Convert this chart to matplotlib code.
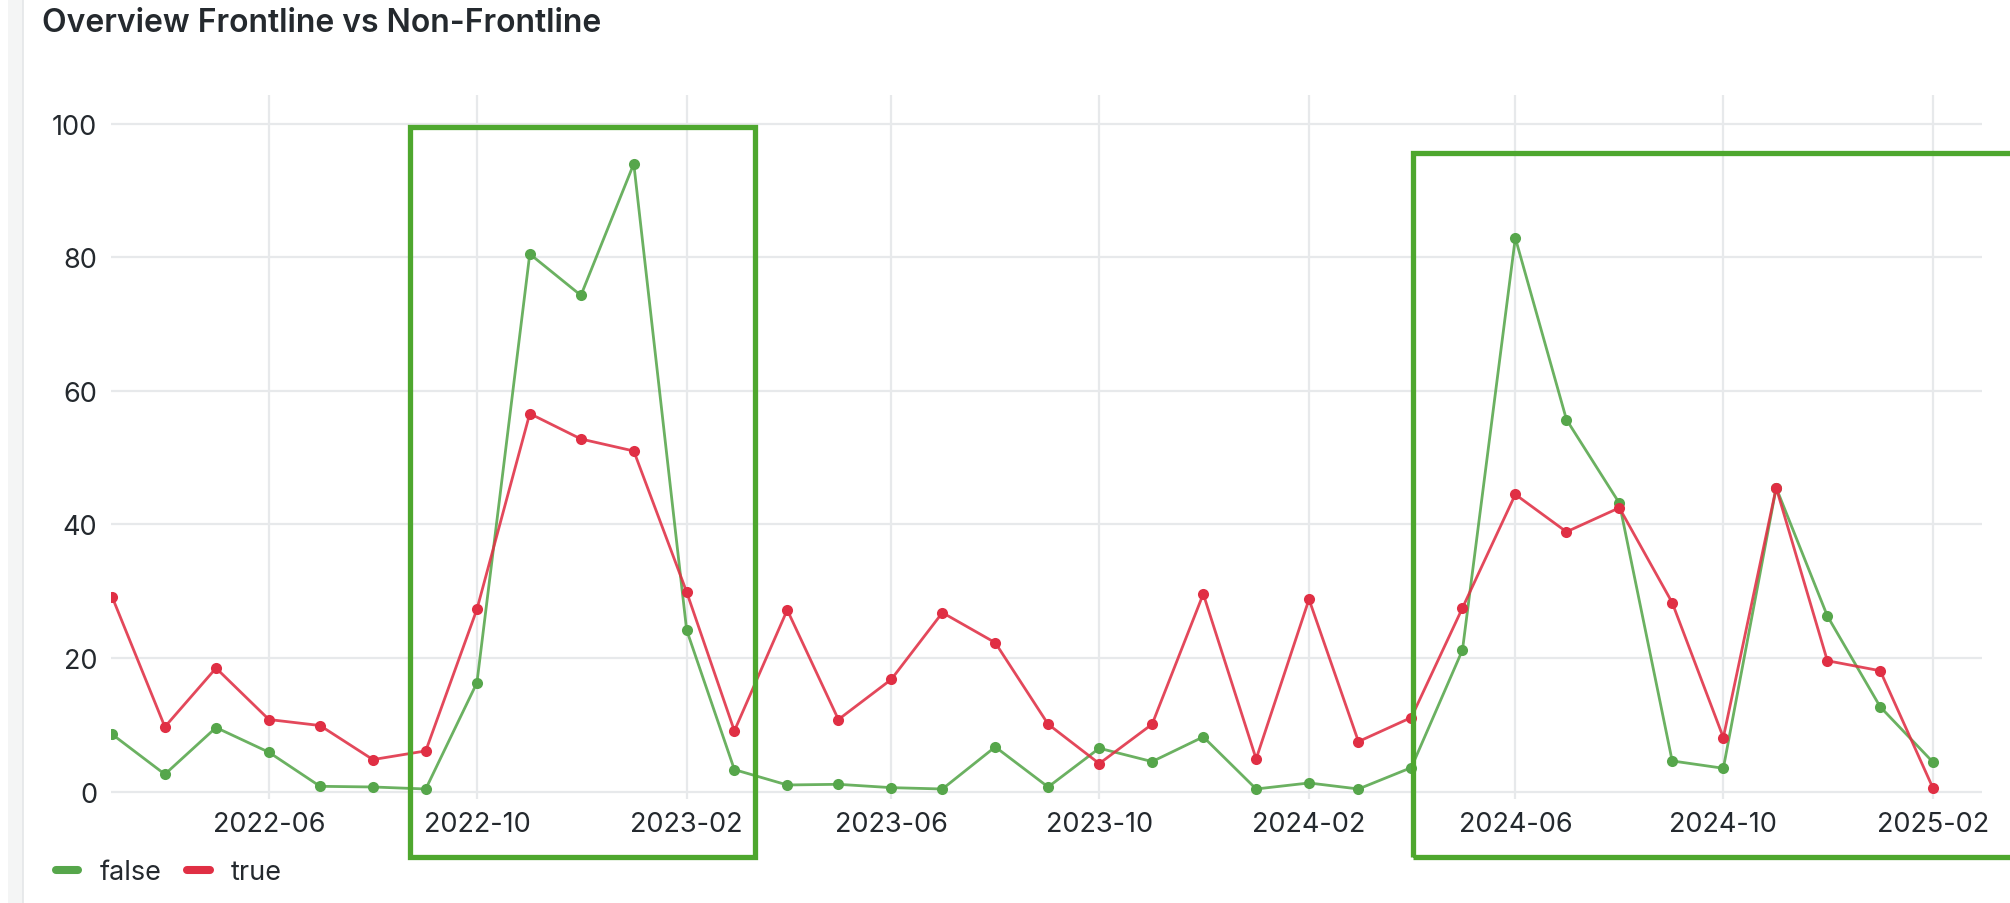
import matplotlib
matplotlib.use("Agg")
import matplotlib.pyplot as plt
import matplotlib.dates as mdates
from matplotlib.lines import Line2D
from matplotlib.patches import Rectangle
import pandas as pd

plt.rcParams['font.family'] = ['Inter', 'DejaVu Sans']

# Monthly series, 2022-03 .. 2025-02
months = pd.date_range("2022-03-01", "2025-02-01", freq="MS")

non_frontline = [8.6, 2.6, 9.6, 5.9, 0.8, 0.7, 0.4, 16.3, 80.5, 74.3, 94.0, 24.2,
                 3.3, 1.0, 1.1, 0.6, 0.4, 6.7, 0.7, 6.5, 4.5, 8.2, 0.4, 1.3,
                 0.4, 3.6, 21.2, 82.9, 55.7, 43.2, 4.6, 3.5, 45.5, 26.3, 12.7, 4.4]
frontline = [29.2, 9.7, 18.5, 10.8, 9.9, 4.8, 6.1, 27.3, 56.6, 52.8, 51.0, 29.9,
             9.1, 27.2, 10.8, 16.8, 26.8, 22.3, 10.1, 4.2, 10.1, 29.6, 4.9, 28.8,
             7.5, 11.1, 27.5, 44.5, 38.9, 42.5, 28.3, 8.1, 45.5, 19.6, 18.1, 0.5]

series_labels = ["false", "true"]
series_colors = ["#56a64b", "#e02f44"]
title = "Overview Frontline vs Non-Frontline"
y_ticks = [0, 20, 40, 60, 80, 100]

TEXT = "#24292e"
GRID = "#e7e9eb"
BOX = "#4ea72e"

W, H = 2010, 904
fig = plt.figure(figsize=(W / 100, H / 100), dpi=100)
fig.patch.set_facecolor("white")

# panel side strip
fig.add_artist(Rectangle((8 / W, 0), 15 / W, 1, transform=fig.transFigure,
                         facecolor="#f4f5f5", edgecolor="none", zorder=0))
fig.add_artist(Line2D([23 / W, 23 / W], [0, 1], transform=fig.transFigure,
                      color="#e4e6e8", lw=1.2, zorder=0))

ax = fig.add_axes([111 / W, 1 - 800 / H, (1982 - 111) / W, (800 - 96) / H])
ax.set_facecolor("white")

for vals, lab, col in zip([non_frontline, frontline], series_labels, series_colors):
    ax.plot(months, vals, color=col, lw=2.0, alpha=0.88, zorder=3,
            solid_joinstyle="round")
    ax.plot(months, vals, linestyle="none", marker="o", ms=8, color=col,
            markeredgewidth=0, zorder=4)

ax.set_ylim(-1.1, 104.3)
ax.set_xlim(months[0] - pd.Timedelta(days=0.6), months[-1] + pd.Timedelta(days=28.7))
ax.set_yticks(y_ticks)
ax.xaxis.set_major_locator(mdates.MonthLocator(bymonth=[2, 6, 10]))
ax.xaxis.set_major_formatter(mdates.DateFormatter("%Y-%m"))

ax.grid(True, color=GRID, lw=1.6, zorder=0)
for s in ax.spines.values():
    s.set_visible(False)
ax.tick_params(axis="both", length=0, labelsize=19.5, colors=TEXT)
ax.tick_params(axis="y", pad=10)
ax.tick_params(axis="x", pad=9)

fig.text(42 / W, 1 - 24 / H, title, fontsize=23, color=TEXT, fontweight="semibold",
         ha="left", va="center")

handles = [Line2D([], [], color=c, lw=5.8, solid_capstyle="round") for c in series_colors]
fig.legend(handles, series_labels, loc="center left",
           bbox_to_anchor=(56 / W, 1 - 873 / H), frameon=False, fontsize=19.5,
           borderpad=0, borderaxespad=0, handlelength=0.83, handletextpad=0.78,
           columnspacing=0.95, ncol=2, labelcolor=TEXT)

# highlight boxes
for x0, y0, x1, y1 in [(410, 128, 755, 858), (1413, 154, 2030, 858)]:
    fig.add_artist(Rectangle((x0 / W, 1 - y1 / H), (x1 - x0) / W, (y1 - y0) / H,
                             transform=fig.transFigure, fill=False,
                             edgecolor=BOX, lw=3.8, zorder=10))

fig.savefig("out.png", dpi=100)
